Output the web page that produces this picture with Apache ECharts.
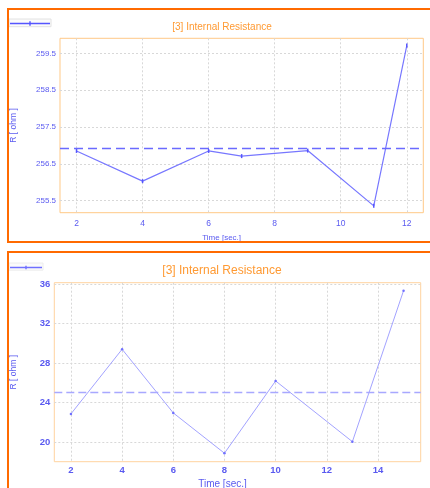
<!DOCTYPE html>
<html><head><meta charset="utf-8">
<script src="https://cdn.jsdelivr.net/npm/echarts@6/dist/echarts.min.js"></script>
<style>html,body{margin:0;padding:0;background:#fff}#c{width:430px;height:488px}</style>
</head><body><div id="c"></div>
<script>
const titleText = "[3] Internal Resistance";
const xName = "Time [sec.]";
const yName = "R [ ohm ]";
const topTime = [2, 4, 6, 7, 9, 11, 12];
const topR = [256.85, 256.03, 256.85, 256.71, 256.86, 255.36, 259.71];
const topXTicks = [2, 4, 6, 8, 10, 12];
const topYTicks = [255.5, 256.5, 257.5, 258.5, 259.5];
const botTime = [2, 4, 6, 8, 10, 13, 15];
const botR = [22.84, 29.39, 22.94, 18.86, 26.18, 20.03, 35.32];
const botXTicks = [2, 4, 6, 8, 10, 12, 14];
const botYTicks = [20, 24, 28, 32, 36];

const chart = echarts.init(document.getElementById('c'), null, {renderer: 'canvas'});
const labelColor = '#5a5af0';
function xAxis(gi, min, max, ticks, fs, lfs, bold, gap, pad, margin) {
  return {
    type: 'value', gridIndex: gi, min: min, max: max,
    name: xName, nameLocation: 'middle', nameGap: gap,
    nameTextStyle: {color: labelColor, fontSize: fs, fontFamily: 'Liberation Sans', padding: [0, pad, 0, 0]},
    axisLine: {show: false}, axisTick: {show: false, customValues: ticks},
    axisLabel: {customValues: ticks, color: labelColor, fontSize: lfs, fontWeight: bold ? 'bold' : 'normal', fontFamily: 'Liberation Sans', margin: margin},
    splitLine: {show: true, lineStyle: {color: '#d8d8d8', type: [2, 2], width: 1}}
  };
}
function yAxis(gi, min, max, ticks, fs, lfs, bold, gap, fmt) {
  return {
    type: 'value', gridIndex: gi, min: min, max: max,
    name: yName, nameLocation: 'middle', nameGap: gap, nameRotate: 90,
    nameTextStyle: {color: labelColor, fontSize: fs, fontFamily: 'Liberation Sans'},
    axisLine: {show: false}, axisTick: {show: false, customValues: ticks},
    axisLabel: {customValues: ticks, color: labelColor, fontSize: lfs, fontWeight: bold ? 'bold' : 'normal', fontFamily: 'Liberation Sans', margin: 4, formatter: fmt},
    splitLine: {show: true, lineStyle: {color: '#d8d8d8', type: [2, 2], width: 1}}
  };
}
chart.setOption({
  animation: false,
  backgroundColor: '#fff',
  title: [
    {text: titleText, left: 217, top: 17, textAlign: 'center',
     textStyle: {color: '#ff9a33', fontSize: 10, fontWeight: 'normal', fontFamily: 'Liberation Sans'}},
    {text: titleText, left: 217, top: 260, textAlign: 'center',
     textStyle: {color: '#ff9a33', fontSize: 12, fontWeight: 'normal', fontFamily: 'Liberation Sans'}}
  ],
  legend: [
    {data: [{name: 'top', icon: 'path://M0,3h40v1.4h-40z M19.3,1.5h1.4v4.4h-1.4z'}], left: 9, top: 19, padding: [1, 1], itemWidth: 40, itemHeight: 7,
     formatter: function(){return '';}, borderColor: '#e2e2e2', borderWidth: 1, backgroundColor: '#fbfbfb',
     textStyle: {fontSize: 1}, selectedMode: false},
    {data: [{name: 'bottom', icon: 'path://M0,3h32v1.4h-32z M15.3,2h1.4v3.4h-1.4z'}], left: 9, top: 263, padding: [1, 1], itemWidth: 32, itemHeight: 7,
     formatter: function(){return '';}, borderColor: '#ececec', borderWidth: 1, backgroundColor: '#fbfbfb',
     textStyle: {fontSize: 1}, selectedMode: false}
  ],
  graphic: [
    {type: 'rect', shape: {x: 8, y: 9, width: 440, height: 233}, style: {fill: 'none', stroke: '#ff6a00', lineWidth: 2}, z: 10},
    {type: 'rect', shape: {x: 8, y: 252, width: 440, height: 260}, style: {fill: 'none', stroke: '#ff6a00', lineWidth: 2}, z: 10}
  ],
  grid: [
    {left: 60, top: 38.3, width: 363.3, height: 174.4, show: true, borderColor: '#ffc987', borderWidth: 1, backgroundColor: 'transparent', outerBoundsMode: 'none', containLabel: false},
    {left: 54.3, top: 282.7, width: 366.4, height: 179, show: true, borderColor: '#ffd39f', borderWidth: 1, backgroundColor: 'transparent', outerBoundsMode: 'none', containLabel: false}
  ],
  xAxis: [
    xAxis(0, 1.5, 12.5, topXTicks, 8, 8.5, false, 21, 40, 6),
    xAxis(1, 1.35, 15.67, botXTicks, 10, 9.5, true, 18, 30, 4)
  ],
  yAxis: [
    yAxis(0, 255.174, 259.907, topYTicks, 8.5, 8, false, 42, function(v){return v.toFixed(1);}),
    yAxis(1, 18, 36.13, botYTicks, 8.5, 9.5, true, 36.5, function(v){return String(v);})
  ],
  series: [
    {name: 'top', type: 'line', xAxisIndex: 0, yAxisIndex: 0,
     data: topTime.map(function(t, i){return [t, topR[i]];}),
     symbol: 'rect', symbolSize: [1.5, 4], showSymbol: true,
     lineStyle: {color: '#7777ff', width: 1.2}, itemStyle: {color: '#5555ff'},
     markLine: {silent: true, symbol: 'none', label: {show: false},
       lineStyle: {color: '#6a6aff', type: [9, 5], width: 1.3},
       data: [{type: 'average'}]}},
    {name: 'bottom', type: 'line', xAxisIndex: 1, yAxisIndex: 1,
     data: botTime.map(function(t, i){return [t, botR[i]];}),
     symbol: 'circle', symbolSize: 2.5, showSymbol: true,
     lineStyle: {color: '#a3a3ff', width: 1}, itemStyle: {color: '#7070ff'},
     markLine: {silent: true, symbol: 'none', label: {show: false},
       lineStyle: {color: '#a8a8ff', type: [8, 4], width: 1.3},
       data: [{type: 'average'}]}}
  ]
});
</script></body></html>
